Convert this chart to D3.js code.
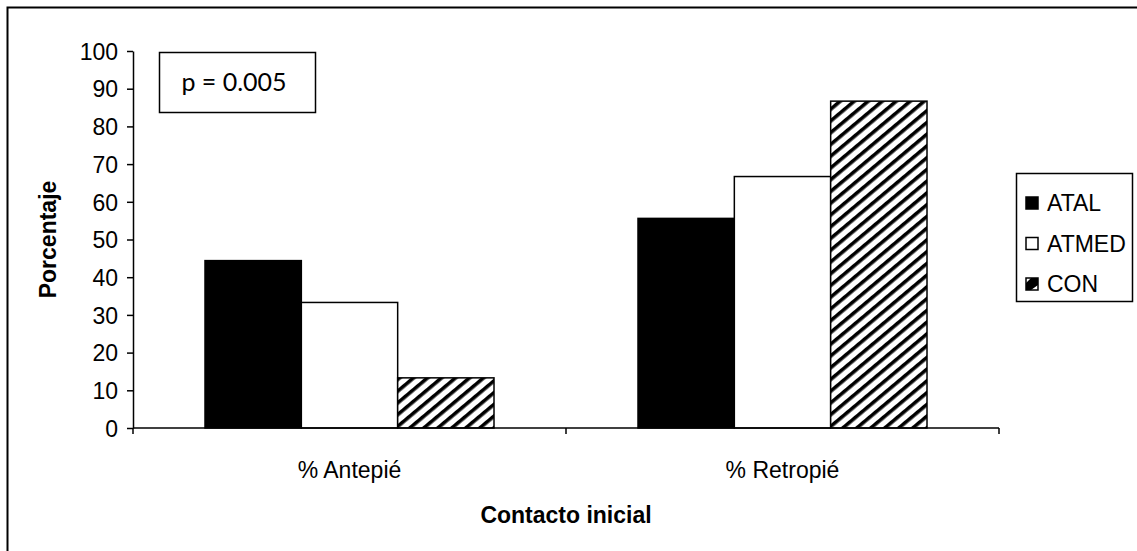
<!DOCTYPE html>
<html>
<head>
<meta charset="utf-8">
<script src="https://cdn.jsdelivr.net/npm/d3@7"></script>
<style>
  html, body { margin: 0; padding: 0; background: #fff; }
  svg { display: block; }
  text { font-family: "Liberation Sans", Arial, sans-serif; fill: #000; }
</style>
</head>
<body>
<svg id="chart" width="1137" height="551"></svg>
<script>
// Data: percentage of initial foot contact by group
const categories = ["% Antepié", "% Retropié"];
const seriesNames = ["ATAL", "ATMED", "CON"];
const ATAL  = [44.4, 55.6];
const ATMED = [33.3, 66.7];
const CON   = [13.3, 86.7];
const seriesValues = [ATAL, ATMED, CON];
const yTicks = [0, 10, 20, 30, 40, 50, 60, 70, 80, 90, 100];
const annotation = "p = 0.005";
const xTitle = "Contacto inicial";
const yTitle = "Porcentaje";

const svg = d3.select("#chart");
const W = 1137, H = 551;

// Pattern for the CON series: diagonal black stripes
const defs = svg.append("defs");
const pat = defs.append("pattern")
  .attr("id", "hatch")
  .attr("patternUnits", "userSpaceOnUse")
  .attr("width", 9).attr("height", 9)
  .attr("patternTransform", "rotate(-40)");
pat.append("rect").attr("width", 9).attr("height", 9).attr("fill", "#fff");
pat.append("rect").attr("x", 0).attr("y", 0).attr("width", 9).attr("height", 3.6).attr("fill", "#000");

const fills = { ATAL: "#000", ATMED: "#fff", CON: "url(#hatch)" };

// Outer frame
svg.append("rect")
  .attr("x", 7.5).attr("y", 7.5)
  .attr("width", W + 20).attr("height", H + 20)
  .attr("fill", "none").attr("stroke", "#000").attr("stroke-width", 2);

// Scales
const plot = { left: 133, right: 999, top: 51, bottom: 428 };
const y = d3.scaleLinear().domain([0, 100]).range([plot.bottom, plot.top]);
const x0 = d3.scaleBand().domain(categories).range([plot.left, plot.right]).padding(0);
const groupPad = 72;
const x1 = d3.scaleBand().domain(seriesNames)
  .range([groupPad, x0.bandwidth() - groupPad]).padding(0);

// Bars
const rows = categories.map((c, i) => ({
  cat: c,
  vals: seriesNames.map((s, j) => ({ s, v: seriesValues[j][i] }))
}));
const groups = svg.append("g").selectAll("g").data(rows).join("g")
  .attr("transform", d => `translate(${x0(d.cat)},0)`);
groups.selectAll("rect").data(d => d.vals).join("rect")
  .attr("x", d => x1(d.s))
  .attr("y", d => y(d.v))
  .attr("width", x1.bandwidth())
  .attr("height", d => y(0) - y(d.v))
  .attr("fill", d => fills[d.s])
  .attr("stroke", "#000").attr("stroke-width", 1.5);

// Y axis
const yAxis = svg.append("g")
  .attr("transform", `translate(${plot.left},0)`)
  .call(d3.axisLeft(y).tickValues(yTicks).tickSize(6).tickPadding(9).tickSizeOuter(0));
yAxis.select(".domain").attr("stroke-width", 1.5);
yAxis.selectAll(".tick line").attr("stroke-width", 1.5);
yAxis.selectAll("text").style("font-size", "23px").attr("dy", "0.36em");

// X axis: ticks at category boundaries, labels centered in each band
const xg = svg.append("g").attr("transform", `translate(0,${plot.bottom})`);
xg.append("line")
  .attr("x1", plot.left).attr("x2", plot.right)
  .attr("stroke", "#000").attr("stroke-width", 1.5);
const bounds = [plot.left].concat(categories.map(c => x0(c) + x0.bandwidth()));
xg.selectAll("line.tk").data(bounds).join("line").attr("class", "tk")
  .attr("x1", d => d).attr("x2", d => d)
  .attr("y1", 0).attr("y2", 6)
  .attr("stroke", "#000").attr("stroke-width", 1.5);
xg.selectAll("text.cat").data(categories).join("text").attr("class", "cat")
  .attr("x", d => x0(d) + x0.bandwidth() / 2)
  .attr("y", 50)
  .attr("text-anchor", "middle")
  .style("font-size", "23px")
  .text(d => d);

// Axis titles
svg.append("text")
  .attr("x", (plot.left + plot.right) / 2).attr("y", 523)
  .attr("text-anchor", "middle")
  .style("font-size", "23px").style("font-weight", "bold")
  .text(xTitle);
svg.append("text")
  .attr("transform", `translate(56,${(plot.top + plot.bottom) / 2}) rotate(-90)`)
  .attr("text-anchor", "middle")
  .style("font-size", "23px").style("font-weight", "bold")
  .text(yTitle);

// Annotation box
svg.append("rect")
  .attr("x", 159.5).attr("y", 52.5).attr("width", 156).attr("height", 60)
  .attr("fill", "#fff").attr("stroke", "#000").attr("stroke-width", 1.5);
svg.append("text")
  .attr("x", 234).attr("y", 91)
  .attr("text-anchor", "middle")
  .style("font-family", "Lato, 'Open Sans', sans-serif")
  .style("font-size", "25px")
  .text(annotation);

// Legend
const legend = svg.append("g");
legend.append("rect")
  .attr("x", 1016.5).attr("y", 173.5).attr("width", 116).attr("height", 128)
  .attr("fill", "#fff").attr("stroke", "#000").attr("stroke-width", 1.5);
const li = legend.selectAll("g.item").data(seriesNames).join("g").attr("class", "item")
  .attr("transform", (d, i) => `translate(1026,${203 + i * 40.5})`);
li.append("rect")
  .attr("x", 0).attr("y", -6).attr("width", 12).attr("height", 12)
  .attr("fill", d => d === "CON" ? "#fff" : fills[d])
  .attr("stroke", "#000").attr("stroke-width", 1.5);
li.filter(d => d === "CON").append("path")
  .attr("d", "M0,6 L0,-1 L5,-6 L12,-6 L12,1 L5,6 Z M3,3 L8,-2 L8,3 Z")
  .attr("fill", "#000");
li.append("text")
  .attr("x", 21).attr("y", 0).attr("dy", "0.36em")
  .style("font-size", "23px")
  .text(d => d);
</script>
</body>
</html>
